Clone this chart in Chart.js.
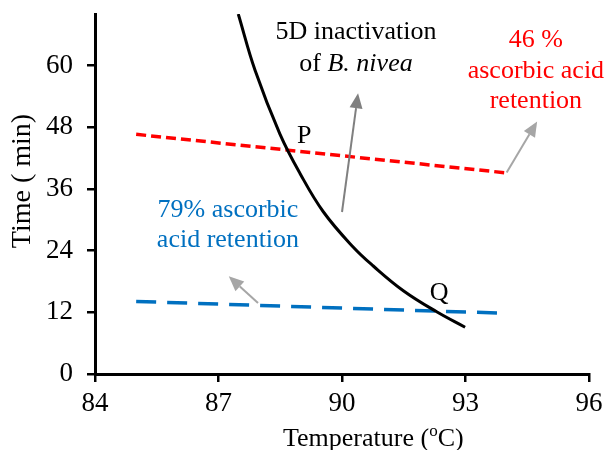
<!DOCTYPE html>
<html>
<head>
<meta charset="utf-8">
<script src="https://cdn.jsdelivr.net/npm/chart.js@4/dist/chart.umd.min.js"></script>
<style>
    html, body { margin: 0; padding: 0; background: #fff; }
    #chart { display: block; }
</style>
</head>
<body>
<canvas id="chart" width="606" height="450"></canvas>
<script>
// data
var xTicks = [84, 87, 90, 93, 96];
var yTicks = [0, 12, 24, 36, 48, 60];

// 5D inactivation of B. nivea
var inactTemp = [87.48, 87.89, 88.49, 88.98, 89.55, 90.27, 90.76, 91.49, 92.30, 92.99];
var inactTime = [70.0, 59.0, 46.7, 39.0, 31.5, 24.7, 21.0, 16.2, 12.1, 9.1];

// 46 % ascorbic acid retention
var ret46Temp = [85, 94];
var ret46Time = [46.6, 39.1];

// 79 % ascorbic acid retention
var ret79Temp = [85, 94];
var ret79Time = [14.1, 11.8];

// arrows in data units (tail -> tip)
var arrows = [
    {from: [90.0, 31.5], to: [90.39, 54.6], color: '#808080'},
    {from: [94.0, 39.2], to: [94.74, 49.1], color: '#a6a6a6'},
    {from: [87.96, 13.8], to: [87.25, 19.0], color: '#a6a6a6'}
];

var serif = "'Liberation Serif', 'Times New Roman', serif";

function toPts(xs, ys) {
    return xs.map(function (x, i) { return {x: x, y: ys[i]}; });
}

var annotations = {
    id: 'annotations',
    afterDraw: function (chart) {
        var ctx = chart.ctx;
        var sx = chart.scales.x, sy = chart.scales.y;
        var px = function (v) { return sx.getPixelForValue(v); };
        var py = function (v) { return sy.getPixelForValue(v); };

        ctx.save();

        // arrows
        arrows.forEach(function (a) {
            var x1 = px(a.from[0]), y1 = py(a.from[1]);
            var x2 = px(a.to[0]), y2 = py(a.to[1]);
            var ang = Math.atan2(y2 - y1, x2 - x1);
            var hl = 15, hw = 6.5;
            ctx.strokeStyle = a.color;
            ctx.fillStyle = a.color;
            ctx.lineWidth = 2;
            ctx.beginPath();
            ctx.moveTo(x1, y1);
            ctx.lineTo(x2 - hl * Math.cos(ang), y2 - hl * Math.sin(ang));
            ctx.stroke();
            ctx.beginPath();
            ctx.moveTo(x2, y2);
            ctx.lineTo(x2 - hl * Math.cos(ang) + hw * Math.sin(ang), y2 - hl * Math.sin(ang) - hw * Math.cos(ang));
            ctx.lineTo(x2 - hl * Math.cos(ang) - hw * Math.sin(ang), y2 - hl * Math.sin(ang) + hw * Math.cos(ang));
            ctx.closePath();
            ctx.fill();
        });

        ctx.textBaseline = 'alphabetic';
        ctx.textAlign = 'center';

        var text = function (str, x, y, color) {
            ctx.fillStyle = color;
            ctx.font = '26px ' + serif;
            ctx.fillText(str, px(x), py(y));
        };

        text('5D inactivation', 90.34, 65.1, '#000');
        // "of B. nivea" with the name in italic
        ctx.textAlign = 'left';
        ctx.font = '26px ' + serif;
        var w1 = ctx.measureText('of ').width;
        ctx.font = 'italic 26px ' + serif;
        var w2 = ctx.measureText('B. nivea').width;
        var sx0 = px(90.34) - (w1 + w2) / 2;
        ctx.fillStyle = '#000';
        ctx.font = '26px ' + serif;
        ctx.fillText('of ', sx0, py(59.0));
        ctx.font = 'italic 26px ' + serif;
        ctx.fillText('B. nivea', sx0 + w1, py(59.0));
        ctx.textAlign = 'center';

        text('46 %', 94.71, 63.5, '#ff0000');
        text('ascorbic acid', 94.71, 57.5, '#ff0000');
        text('retention', 94.71, 51.7, '#ff0000');

        text('79% ascorbic', 87.23, 30.5, '#0070c0');
        text('acid retention', 87.23, 24.7, '#0070c0');

        text('P', 89.08, 45.0, '#000');
        text('Q', 92.36, 14.4, '#000');

        // axis titles
        ctx.fillStyle = '#000';
        ctx.font = '28px ' + serif;
        ctx.save();
        ctx.translate(23, 181);
        ctx.rotate(-Math.PI / 2);
        ctx.textBaseline = 'middle';
        ctx.fillText('Time ( min)', 0, 0);
        ctx.restore();

        ctx.font = '26px ' + serif;
        ctx.textAlign = 'left';
        var tx = 283, ty = 446;
        var a = 'Temperature (';
        ctx.fillText(a, tx, ty);
        tx += ctx.measureText(a).width;
        ctx.font = '17px ' + serif;
        ctx.fillText('o', tx, ty - 10);
        tx += ctx.measureText('o').width;
        ctx.font = '26px ' + serif;
        ctx.fillText('C)', tx, ty);

        ctx.restore();
    }
};

var axisGrid = {
    display: true,
    drawOnChartArea: false,
    drawTicks: true,
    tickLength: 8,
    color: '#000',
    lineWidth: 2.5
};

new Chart(document.getElementById('chart'), {
    type: 'line',
    data: {
        datasets: [
            {
                data: toPts(inactTemp, inactTime),
                borderColor: '#000',
                borderWidth: 3,
                pointRadius: 0,
                tension: 0.4,
                fill: false
            },
            {
                data: toPts(ret46Temp, ret46Time),
                borderColor: '#ff0000',
                borderWidth: 3.5,
                borderDash: [10, 5],
                pointRadius: 0,
                fill: false
            },
            {
                data: toPts(ret79Temp, ret79Time),
                borderColor: '#0070c0',
                borderWidth: 3.5,
                borderDash: [20, 11],
                pointRadius: 0,
                fill: false
            }
        ]
    },
    options: {
        responsive: false,
        animation: false,
        layout: {padding: {top: 14, right: 17, left: 0, bottom: 0}},
        plugins: {
            legend: {display: false},
            tooltip: {enabled: false}
        },
        scales: {
            x: {
                type: 'linear',
                min: 84,
                max: 96,
                afterBuildTicks: function (axis) {
                    axis.ticks = xTicks.map(function (v) { return {value: v}; });
                },
                afterFit: function (axis) {
                    axis.height = 76;
                    axis.paddingLeft = 0;
                    axis.paddingRight = 0;
                },
                grid: axisGrid,
                border: {display: true, color: '#000', width: 3},
                ticks: {
                    color: '#000',
                    padding: 6,
                    maxRotation: 0,
                    font: {family: serif, size: 27}
                }
            },
            y: {
                min: 0,
                max: 70,
                afterBuildTicks: function (axis) {
                    axis.ticks = yTicks.map(function (v) { return {value: v}; });
                },
                afterFit: function (axis) {
                    axis.width = 95;
                    axis.paddingTop = 0;
                    axis.paddingBottom = 0;
                },
                grid: axisGrid,
                border: {display: true, color: '#000', width: 3},
                ticks: {
                    color: '#000',
                    padding: 14,
                    font: {family: serif, size: 27}
                }
            }
        }
    },
    plugins: [annotations]
});
</script>
</body>
</html>
